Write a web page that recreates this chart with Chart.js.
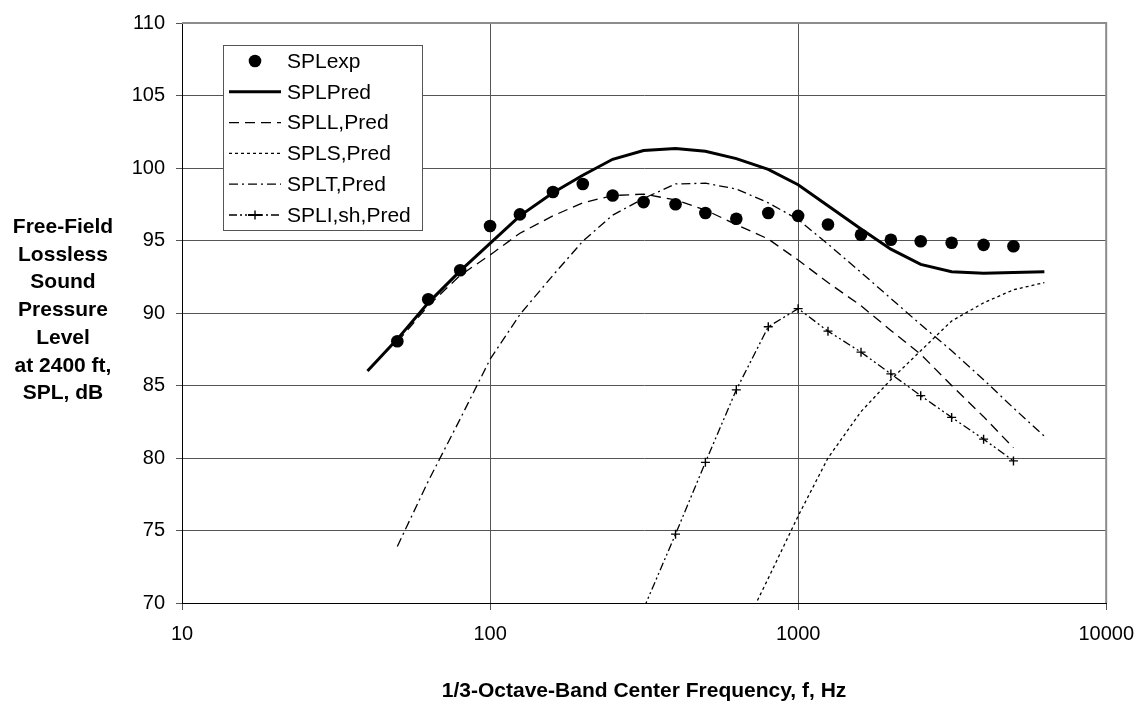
<!DOCTYPE html>
<html>
<head>
<meta charset="utf-8">
<script src="https://cdn.jsdelivr.net/npm/chart.js@4.4.1/dist/chart.umd.min.js"></script>
<style>
  body { margin: 0; background: #fff; }
  #wrap { position: relative; width: 1146px; height: 709px; }
  #ytitle {
    position: absolute; left: 0; top: 212px; width: 126px;
    font: bold 21px "Liberation Sans", Arial, sans-serif;
    line-height: 27.7px; text-align: center; color: #000;
  }
</style>
</head>
<body>
<div id="wrap">
  <canvas id="chart" width="1146" height="709"></canvas>
  <div id="ytitle">Free-Field<br>Lossless<br>Sound<br>Pressure<br>Level<br>at 2400 ft,<br>SPL, dB</div>
</div>
<script>
const ctx = document.querySelector("#chart").getContext("2d");

// 1/3-octave band centre frequencies, Hz
const bands = [40, 50, 63, 80, 100, 125, 160, 200, 250, 315, 400, 500, 630, 800, 1000, 1250, 1600, 2000, 2500, 3150, 4000, 5000, 6300];

const splExp = [null, 88.05, 90.95, 92.95, 96.0, 96.8, 98.35, 98.9, 98.1, 97.65, 97.5, 96.9, 96.5, 96.9, 96.7, 96.1, 95.4, 95.05, 94.95, 94.85, 94.7, 94.6, null];
const splPred = [86.0, 88.2, 90.7, 92.9, 94.8, 96.7, 98.3, 99.5, 100.6, 101.2, 101.35, 101.15, 100.65, 99.9, 98.85, 97.4, 95.8, 94.4, 93.35, 92.85, 92.75, 92.8, 92.85];
const splL = [null, 88.0, 90.5, 92.6, 94.0, 95.5, 96.7, 97.6, 98.1, 98.2, 97.8, 97.1, 96.1, 95.1, 93.65, 92.1, 90.5, 88.8, 87.15, 85.0, 82.85, 80.7, null];
const splS = [null, null, null, null, null, null, null, null, null, null, null, null, 67.2, 71.7, 76.0, 80.0, 83.2, 85.4, 87.4, 89.45, 90.7, 91.6, 92.1];
const splT = [null, 73.9, 78.4, 82.7, 86.8, 89.9, 92.6, 94.95, 96.75, 97.9, 98.9, 98.95, 98.55, 97.6, 96.45, 94.75, 92.8, 91.0, 89.2, 87.4, 85.4, 83.45, 81.5];
const splI = [null, null, null, null, null, null, null, null, null, 69.6, 74.75, 79.7, 84.7, 89.05, 90.3, 88.75, 87.3, 85.8, 84.3, 82.8, 81.3, 79.8, null];

const xTicks = [10, 100, 1000, 10000];
const yMin = 70, yMax = 110, yStep = 5;

function pairs(vals) {
  const out = [];
  vals.forEach((v, i) => { if (v !== null) out.push({ x: bands[i], y: v }); });
  return out;
}

const FONT = "'Liberation Sans', Arial, sans-serif";
Chart.defaults.font.family = FONT;
Chart.defaults.color = "#000";

// grey frame on top and right, legend box in the upper left
const frame = {
  id: "frame",
  beforeDatasetsDraw(chart) {
    const { ctx, chartArea: a } = chart;
    ctx.save();
    ctx.strokeStyle = "#8c8c8c";
    ctx.lineWidth = 2;
    ctx.beginPath();
    ctx.moveTo(a.left, a.top);
    ctx.lineTo(a.right, a.top);
    ctx.lineTo(a.right, a.bottom);
    ctx.stroke();
    ctx.restore();
  },
};

const legendBox = {
  id: "legendBox",
  afterDatasetsDraw(chart) {
    const { ctx, chartArea: a } = chart;
    const left = a.left + 41, top = a.top + 22, w = 199, h = 185;
    ctx.save();
    ctx.fillStyle = "#fff";
    ctx.fillRect(left, top, w, h);
    ctx.strokeStyle = "#555";
    ctx.lineWidth = 1;
    ctx.strokeRect(left + 0.5, top + 0.5, w, h);
    chart.data.datasets.forEach((ds, i) => {
      const y = top + 16 + i * 30.8;
      const x0 = left + 6, x1 = left + 58, xm = (x0 + x1) / 2;
      ctx.strokeStyle = "#000";
      ctx.fillStyle = "#000";
      if (ds.showLine !== false) {
        ctx.setLineDash(ds.borderDash || []);
        ctx.lineWidth = ds.borderWidth;
        ctx.beginPath();
        ctx.moveTo(x0, y);
        ctx.lineTo(x1, y);
        ctx.stroke();
        ctx.setLineDash([]);
      }
      if (ds.pointStyle === "circle" && ds.pointRadius > 0) {
        ctx.beginPath();
        ctx.arc(xm, y, ds.pointRadius, 0, Math.PI * 2);
        ctx.fill();
      } else if (ds.pointStyle === "cross") {
        ctx.fillRect(xm - 7, y - 1, 14, 2);
        ctx.lineWidth = ds.pointBorderWidth;
        ctx.beginPath();
        ctx.moveTo(xm, y - ds.pointRadius);
        ctx.lineTo(xm, y + ds.pointRadius);
        ctx.moveTo(xm - ds.pointRadius, y);
        ctx.lineTo(xm + ds.pointRadius, y);
        ctx.stroke();
      }
      ctx.font = "21px " + FONT;
      ctx.textBaseline = "middle";
      ctx.textAlign = "left";
      ctx.fillText(ds.label, left + 64, y + 1);
    });
    ctx.restore();
  },
};

const lineBase = { borderColor: "#000", backgroundColor: "#000", fill: false, tension: 0, pointRadius: 0, clip: 0 };

new Chart(ctx, {
  type: "line",
  data: {
    datasets: [
      { ...lineBase, label: "SPLexp", data: pairs(splExp), showLine: false, pointStyle: "circle", pointRadius: 6.3, borderWidth: 0 },
      { ...lineBase, label: "SPLPred", data: pairs(splPred), borderWidth: 3 },
      { ...lineBase, label: "SPLL,Pred", data: pairs(splL), borderWidth: 1.3, borderDash: [10, 6] },
      { ...lineBase, label: "SPLS,Pred", data: pairs(splS), borderWidth: 1.3, borderDash: [3, 3] },
      { ...lineBase, label: "SPLT,Pred", data: pairs(splT), borderWidth: 1.3, borderDash: [9, 4, 2, 4] },
      { ...lineBase, label: "SPLI,sh,Pred", data: pairs(splI), borderWidth: 1.3, borderDash: [8, 3, 2, 3, 2, 3], pointStyle: "cross", pointRadius: 4.5, pointBorderWidth: 1.4 },
    ],
  },
  options: {
    responsive: false,
    animation: false,
    devicePixelRatio: 1,
    layout: { padding: { left: 0, right: 35, top: 15, bottom: 0 } },
    plugins: { legend: { display: false }, tooltip: { enabled: false } },
    scales: {
      x: {
        type: "logarithmic",
        min: 10,
        max: 10000,
        afterBuildTicks: (scale) => { scale.ticks = xTicks.map((v) => ({ value: v })); },
        afterFit: (scale) => { scale.height = 106; },
        ticks: { font: { size: 20 }, padding: 12, maxRotation: 0, callback: (v) => String(v) },
        grid: { color: "#555", lineWidth: 1, tickLength: 7 },
        border: { color: "#000", width: 1 },
        title: {
          display: true,
          text: "1/3-Octave-Band Center Frequency, f, Hz",
          font: { size: 21, weight: "bold" },
          padding: { top: 0, bottom: 5 },
        },
      },
      y: {
        min: yMin,
        max: yMax,
        afterFit: (scale) => { scale.width = 182; },
        ticks: { stepSize: yStep, font: { size: 20 }, padding: 11 },
        grid: { color: "#555", lineWidth: 1, tickLength: 6 },
        border: { color: "#000", width: 1 },
      },
    },
  },
  plugins: [frame, legendBox],
});
</script>
</body>
</html>
